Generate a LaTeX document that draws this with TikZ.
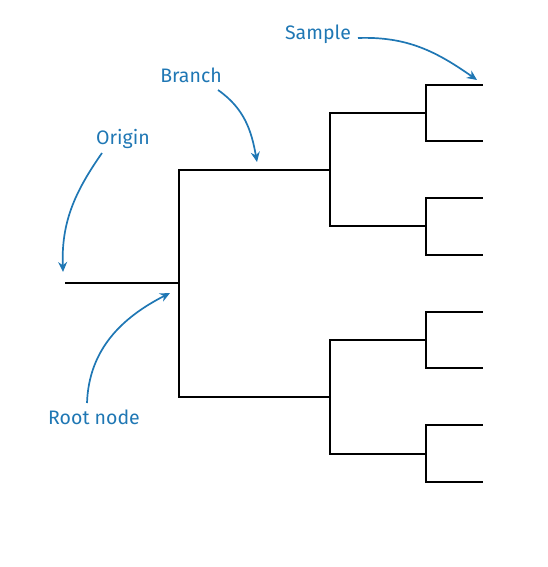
\documentclass[tikz,border=0pt]{standalone}
\usepackage{fontspec}
\setmainfont{Fira Sans}
\usetikzlibrary{arrows.meta}
\definecolor{lblue}{HTML}{1F77B4}
\begin{document}
\begin{tikzpicture}[x=1pt,y=-1pt,
  tree/.style={line width=1.9pt,black,line cap=rect},
  lab/.style={text=lblue,font=\fontsize{19.5}{22}\selectfont,inner sep=0pt},
  callout/.style={draw=lblue,line width=1.7pt,-{Stealth[length=10pt,width=9pt]}}]
\useasboundingbox (0,0) rectangle (548,567);
% tree coordinates
\coordinate (o) at (66,283);
\coordinate (r) at (179,283);
\coordinate (rt) at (179,170);
\coordinate (rb) at (179,397);
\coordinate (a) at (330,170);
\coordinate (at) at (330,113);
\coordinate (ab) at (330,226);
\coordinate (b) at (330,397);
\coordinate (bt) at (330,340);
\coordinate (bb) at (330,454);
\foreach \n/\y/\t/\b in {a1/113/85/141, a2/226/198/255, b1/340/312/368, b2/454/425/482}{
  \coordinate (\n) at (426,\y);
  \coordinate (\n t) at (426,\t);
  \coordinate (\n b) at (426,\b);
  \coordinate (\n tl) at (482,\t);
  \coordinate (\n bl) at (482,\b);
}
\draw[tree] (o) -- (r);
\draw[tree] (rt) -- (rb);
\draw[tree] (rt) -- (a);
\draw[tree] (rb) -- (b);
\draw[tree] (at) -- (ab);
\draw[tree] (bt) -- (bb);
\draw[tree] (at) -- (a1);
\draw[tree] (ab) -- (a2);
\draw[tree] (bt) -- (b1);
\draw[tree] (bb) -- (b2);
\foreach \n in {a1,a2,b1,b2}{
  \draw[tree] (\n t) -- (\n b);
  \draw[tree] (\n t) -- (\n tl);
  \draw[tree] (\n b) -- (\n bl);
}
% labels
\node[lab] (sample) at (318,34) {Sample};
\node[lab] (branch) at (191,75) {Branch};
\node[lab] (origin) at (123,139) {Origin};
\node[lab] (root) at (94,417) {Root node};
% callout ends
\coordinate (s0) at (358,38);
\coordinate (s1) at (477,80);
\coordinate (br0) at (218,90);
\coordinate (br1) at (257,162);
\coordinate (or0) at (102,153);
\coordinate (or1) at (63,272);
\coordinate (ro0) at (87,403);
\coordinate (ro1) at (170,293);
\draw[callout] (s0) to[out=2,in=145] (s1);
\draw[callout] (br0) to[out=-35,in=100] (br1);
\draw[callout] (or0) to[out=-125,in=92] (or1);
\draw[callout] (ro0) to[out=88,in=207] (ro1);
\end{tikzpicture}
\end{document}
